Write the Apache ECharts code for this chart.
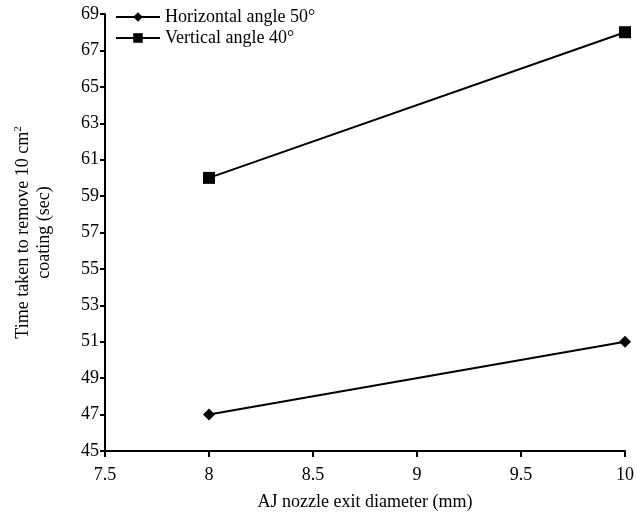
<!DOCTYPE html>
<html>
<head>
<meta charset="utf-8">
<script src="https://cdn.jsdelivr.net/npm/echarts@6/dist/echarts.min.js"></script>
<style>
  html, body { margin: 0; padding: 0; background: #fff; }
  #chart { width: 637px; height: 516px; }
</style>
</head>
<body>
<div id="chart"></div>
<script>
// data
var diameters = [8, 10];
var horizontal50 = [47, 51];
var vertical40 = [60, 68];
var seriesNames = ['Horizontal angle 50°', 'Vertical angle 40°'];

var font = 'Liberation Serif';

function pairs(xs, ys) {
    return xs.map(function (x, i) { return [x, ys[i]]; });
}

var chart = echarts.init(document.getElementById('chart'));

chart.setOption({
    animation: false,
    textStyle: { fontFamily: font, color: '#000' },
    grid: { left: 105, right: 10, top: 14, bottom: 65 },
    legend: {
        left: 110,
        top: 3,
        orient: 'vertical',
        itemWidth: 44,
        itemHeight: 12,
        itemGap: 3,
        textStyle: { fontFamily: font, fontSize: 18, color: '#000' },
        data: seriesNames
    },
    xAxis: {
        type: 'value',
        min: 7.5,
        max: 10,
        interval: 0.5,
        name: 'AJ nozzle exit diameter (mm)',
        nameLocation: 'middle',
        nameGap: 42,
        nameTextStyle: { fontFamily: font, fontSize: 18, color: '#000' },
        axisLine: { lineStyle: { color: '#000', width: 2 } },
        axisTick: { length: 6, lineStyle: { color: '#000', width: 2 } },
        axisLabel: { fontFamily: font, fontSize: 18, color: '#000', margin: 15 },
        splitLine: { show: false }
    },
    yAxis: {
        type: 'value',
        min: 45,
        max: 69,
        interval: 2,
        name: '{a|Time taken to remove 10 cm}{s|2}\n{a|coating (sec)}',
        nameLocation: 'middle',
        nameGap: 50,
        nameTextStyle: {
            fontFamily: font, fontSize: 18, color: '#000', lineHeight: 21,
            rich: {
                a: { fontFamily: font, fontSize: 18, color: '#000', lineHeight: 21 },
                s: { fontFamily: font, fontSize: 11, color: '#000', verticalAlign: 'top', padding: [0, 0, 8, 0] }
            }
        },
        axisLine: { show: true, lineStyle: { color: '#000', width: 2 } },
        axisTick: { show: true, length: 5, lineStyle: { color: '#000', width: 2 } },
        axisLabel: { fontFamily: font, fontSize: 18, color: '#000', margin: 6 },
        splitLine: { show: false }
    },
    series: [
        {
            name: seriesNames[0],
            type: 'line',
            data: pairs(diameters, horizontal50),
            symbol: 'diamond',
            symbolSize: 12,
            lineStyle: { color: '#000', width: 2 },
            itemStyle: { color: '#000' }
        },
        {
            name: seriesNames[1],
            type: 'line',
            data: pairs(diameters, vertical40),
            symbol: 'rect',
            symbolSize: 12,
            lineStyle: { color: '#000', width: 2 },
            itemStyle: { color: '#000' }
        }
    ]
});
</script>
</body>
</html>
